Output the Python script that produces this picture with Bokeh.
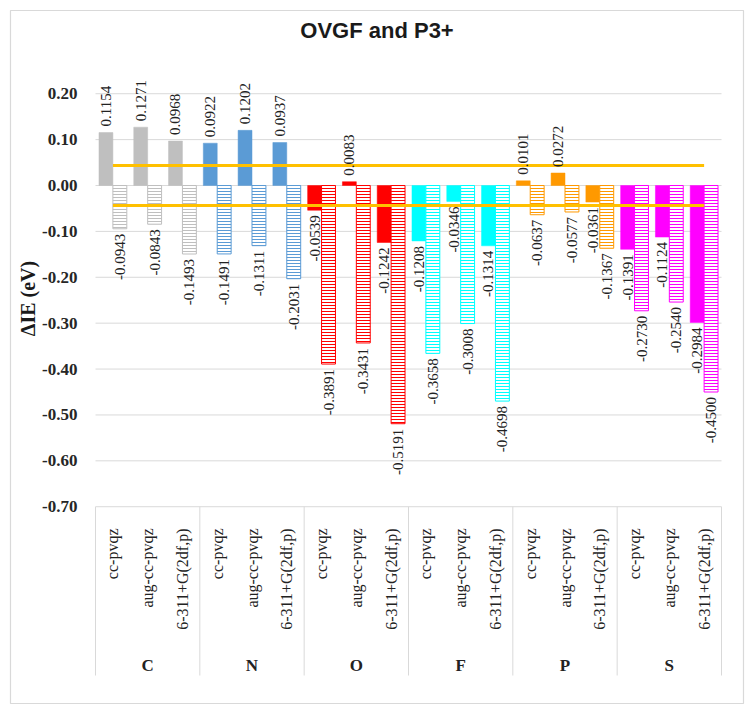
import math
from bokeh.plotting import figure
from bokeh.models import Range1d, FixedTicker, NumeralTickFormatter, ColumnDataSource
from bokeh.core.properties import value
from bokeh.embed import file_html
from bokeh.resources import INLINE

# ---------------- data ----------------
elements = ["C", "N", "O", "F", "P", "S"]
basis_sets = ["cc-pvqz", "aug-cc-pvqz", "6-311+G(2df,p)"]
colors = ["#BFBFBF", "#5B9BD5", "#FF0000", "#00FFFF", "#FF9900", "#FF00FF"]

ovgf = [0.1154, 0.1271, 0.0968,
        0.0922, 0.1202, 0.0937,
        -0.0539, 0.0083, -0.1242,
        -0.1208, -0.0346, -0.1314,
        0.0101, 0.0272, -0.0361,
        -0.1391, -0.1124, -0.2984]
p3plus = [-0.0943, -0.0843, -0.1493,
          -0.1491, -0.1311, -0.2031,
          -0.3891, -0.3431, -0.5191,
          -0.3658, -0.3008, -0.4698,
          -0.0637, -0.0577, -0.1367,
          -0.2730, -0.2540, -0.4500]
chem_acc = 0.0434  # eV threshold lines
y_ticks = [0.20, 0.10, 0.00, -0.10, -0.20, -0.30, -0.40, -0.50, -0.60, -0.70]

# ---------------- layout constants ----------------
W, H = 753, 713
PAD = 10                      # chart-area border inset
LEFT, RIGHT = 95, 721         # plot-area horizontal extent (px)
Y0_PX = 185.0                 # pixel row of value 0
PX_PER_UNIT = 458.9
n_sub = len(basis_sets)
n_cat = len(elements) * n_sub
X_SCALE = (RIGHT - LEFT) / n_cat

def yv(px):
    return (Y0_PX - px) / PX_PER_UNIT

def xv(px):
    return (px - LEFT) / X_SCALE

p = figure(width=W, height=H, output_backend="svg", toolbar_location=None,
           x_range=Range1d(xv(PAD), xv(W - PAD)),
           y_range=Range1d(yv(H - PAD), yv(PAD)),
           min_border_left=PAD, min_border_right=PAD,
           min_border_top=PAD, min_border_bottom=PAD)
p.outline_line_color = "#D9D9D9"
p.outline_line_width = 1.2
p.background_fill_color = "white"
p.border_fill_color = "white"
p.xaxis.visible = False
p.xgrid.visible = False
p.ygrid.visible = False

ticker = FixedTicker(ticks=y_ticks)
p.yaxis.fixed_location = 0
p.yaxis.ticker = ticker
p.yaxis.formatter = NumeralTickFormatter(format="0.00")
p.yaxis.axis_line_color = None
p.yaxis.major_tick_line_color = None
p.yaxis.minor_tick_line_color = None
p.yaxis.major_tick_out = 0
p.yaxis.major_tick_in = 0
p.yaxis.major_label_standoff = 18
p.yaxis.major_label_text_font = "Liberation Serif"
p.yaxis.major_label_text_font_style = "bold"
p.yaxis.major_label_text_font_size = "17px"
p.yaxis.major_label_text_color = "#262626"

# horizontal gridlines across the plot area only
p.segment(x0=[0] * len(y_ticks), x1=[n_cat] * len(y_ticks), y0=y_ticks, y1=y_ticks,
          line_color="#D9D9D9", line_width=1)

# ---------------- bars ----------------
centers = [i + 0.5 for i in range(n_cat)]
bar_colors = [colors[i // n_sub] for i in range(n_cat)]
src = ColumnDataSource(dict(
    xs=[c - 0.2 for c in centers], xh=[c + 0.2 for c in centers],
    ovgf=ovgf, p3=p3plus, color=bar_colors,
))
p.vbar(x="xs", width=0.4, top="ovgf", bottom=0, source=src,
       fill_color="color", line_color="color", line_width=0.5)
p.vbar(x="xh", width=0.4, top="p3", bottom=0, source=src,
       fill_color="white", line_color="color", line_width=1,
       hatch_pattern="horizontal_line", hatch_color="color",
       hatch_scale=3, hatch_weight=1)

# threshold lines
p.line([centers[0], centers[-1]], [chem_acc, chem_acc], line_color="#FFC000", line_width=3)
p.line([centers[0], centers[-1]], [-chem_acc, -chem_acc], line_color="#FFC000", line_width=3)

# ---------------- data labels ----------------
def add_labels(xs, vals):
    pos = dict(x=[x for x, v in zip(xs, vals) if v >= 0],
               y=[v for v in vals if v >= 0],
               t=["%.4f" % v for v in vals if v >= 0])
    neg = dict(x=[x for x, v in zip(xs, vals) if v < 0],
               y=[v for v in vals if v < 0],
               t=["%.4f" % v for v in vals if v < 0])
    common = dict(angle=math.pi / 2, text_font=value("Liberation Serif"),
                  text_font_size="15px", text_color="#222222", text_baseline="middle")
    p.text(x="x", y="y", text="t", source=ColumnDataSource(pos),
           text_align="left", y_offset=-6, **common)
    p.text(x="x", y="y", text="t", source=ColumnDataSource(neg),
           text_align="right", y_offset=5, **common)

add_labels([c - 0.2 for c in centers], ovgf)
add_labels([c + 0.2 for c in centers], p3plus)

# ---------------- category axis (drawn) ----------------
sep_x = [g * n_sub for g in range(len(elements) + 1)]
p.segment(x0=sep_x, y0=[y_ticks[-1]] * len(sep_x), x1=sep_x, y1=[yv(675)] * len(sep_x),
          line_color="#D9D9D9", line_width=1)

sub_labels = [basis_sets[i % n_sub] for i in range(n_cat)]
p.text(x=centers, y=[yv(528)] * n_cat, text=sub_labels, angle=math.pi / 2,
       text_align="right", text_baseline="middle",
       text_font=value("Liberation Serif"), text_font_size="16px", text_color="#222222")

grp_x = [g * n_sub + n_sub / 2 for g in range(len(elements))]
p.text(x=grp_x, y=[yv(665)] * len(elements), text=elements,
       text_align="center", text_baseline="middle",
       text_font=value("Liberation Serif"), text_font_size="17px",
       text_font_style="bold", text_color="#222222")

# ---------------- titles ----------------
p.text(x=[xv(W / 2)], y=[yv(30)], text=["OVGF and P3+"], text_align="center",
       text_baseline="middle", text_font=value("Liberation Sans"),
       text_font_size="22px", text_font_style="bold", text_color="#1a1a1a")

p.text(x=[xv(27)], y=[yv(298)], text=["ΔIE (eV)"], angle=math.pi / 2,
       text_align="center", text_baseline="middle",
       text_font=value("Liberation Serif"), text_font_size="20px",
       text_font_style="bold", text_color="#1a1a1a")

open("out.html", "w").write(file_html(p, INLINE))
